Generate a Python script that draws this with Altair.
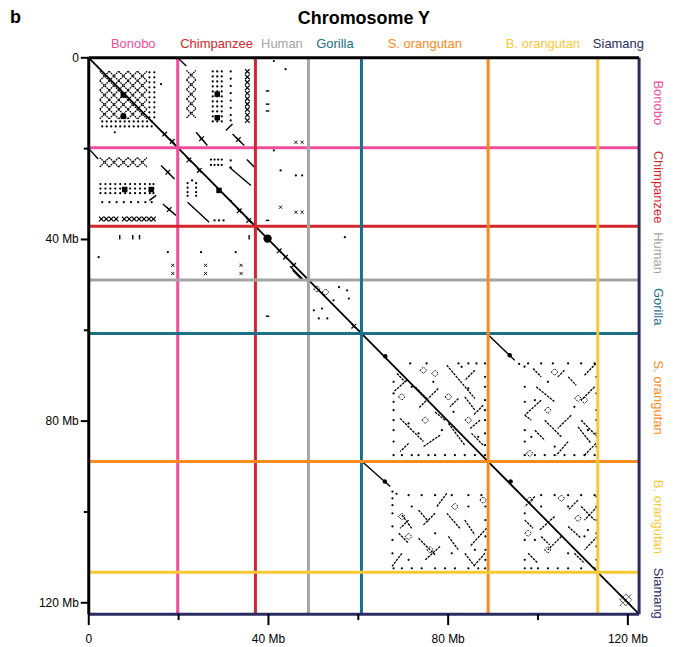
import altair as alt
import pandas as pd

# ---------------- species blocks (Mb) ----------------
species = ["Bonobo", "Chimpanzee", "Human", "Gorilla", "S. orangutan", "B. orangutan", "Siamang"]
starts = [0.0, 19.8, 37.1, 48.9, 60.7, 88.9, 113.3]
ends = [19.8, 37.1, 48.9, 60.7, 88.9, 113.3, 122.5]
colors = ["#EE4E9B", "#D3262D", "#A5A5A5", "#1D6F87", "#F68B20", "#F8C935", "#2C2B61"]
major_ticks = [0, 40, 80, 120]
major_labels = ["0", "40 Mb", "80 Mb", "120 Mb"]
minor_ticks = [20, 60, 100]

# ---------------- lattice X motifs (palindromic repeats) ----------------
latt_bb_x = [3.5, 5.6, 7.7, 9.8, 11.9]
latt_bb_y = [4.0, 6.1, 8.2, 10.3, 12.4]
latt_bc_x = [22.8]
latt_bc_y = [3.8, 5.9, 8.0, 10.1, 12.2]
latt_cb_x = [3.5, 5.6, 7.7, 9.8, 11.9]
latt_cb_y = [23.0]

# small zig-zag X chains
zig_bc_x = [35.3]
zig_bc_y = [3.0, 4.2, 5.4, 6.6, 7.8, 9.0, 10.2, 11.4, 12.6, 13.8]
zig_cb_x = [2.8, 3.9, 5.0, 6.1, 7.9, 9.0, 10.1, 11.2, 12.3, 13.4, 14.4]
zig_cb_y = [35.5]

# crossings on alignment lines
diag_ticks = [(16.9, 16.8), (18.6, 18.4), (25.1, 17.8), (33.3, 18.0), (17.6, 25.2),
              (17.9, 33.4), (22.3, 22.5), (24.6, 24.8), (33.5, 33.7), (35.6, 35.8),
              (42.4, 42.5), (43.8, 43.9), (45.6, 45.7), (59.0, 59.1)]
tiny_x = [(42.7, 32.9), (46.1, 34.0), (47.5, 34.0), (46.1, 18.6), (47.5, 18.6),
          (18.7, 45.7), (18.7, 47.5), (26.0, 45.7), (26.0, 47.5), (33.9, 45.7),
          (33.9, 47.5)]
siamang_x = [(118.9, 118.7), (120.2, 118.7), (118.9, 120.0), (120.2, 120.0)]

# ---------------- dotted rows / columns ----------------
bb_col_x, bb_col_y = [13.5, 14.6], [3.2, 4.3, 5.4, 6.5, 7.6, 8.7, 9.8, 10.9, 12.0, 13.1]
bb_row_x, bb_row_y = [3.0, 4.0, 5.0, 6.0, 7.0, 8.0, 9.0, 10.0, 11.0, 12.0, 13.0, 14.0], [14.0, 15.1]
bc_comb_x, bc_comb_y = [27.6, 28.6, 29.6], [3.0, 4.1, 5.2, 6.3, 7.4, 8.5, 9.6, 10.7, 11.8, 12.9, 14.0]
bc_line_x, bc_line_y = [31.6], [3.0, 4.6, 6.2, 7.8, 9.4, 11.0, 12.6, 13.8]
cb_comb_x, cb_comb_y = [2.6, 3.7, 4.8, 5.9, 7.0, 8.1, 9.2, 10.3, 11.4, 12.5, 13.6, 14.4], [27.8, 28.8, 29.8]
cb_line_x, cb_line_y = [3.0, 4.6, 6.2, 7.8, 9.4, 11.0, 12.6, 14.0], [31.8]
cc_c_x, cc_c_y = [27.2, 28.0, 28.8, 29.6], [22.4, 23.6]
cc_n_x, cc_n_y = [22.0, 23.9], [27.6, 28.6, 29.6, 30.4]
ss_top_x, ss_top_y = [71.55, 75.2, 82.3, 84.5, 86.3, 88.2], [67.3]
ss_bot_x, ss_bot_y = [67.85, 69.7, 71.9, 73.4, 75.6, 77.1, 79.3, 81.5, 83.7, 85.95, 88.2], [87.5]
ss_left_x, ss_left_y = [67.85], [71.35, 73.9, 75.75, 77.6, 79.8, 82.0, 84.5]
ss_right_x, ss_right_y = [88.2], [70.25, 72.45, 75.4, 77.6, 79.8, 82.7, 85.3]
sb_top_x, sb_top_y = [97.8, 100.7, 103.3, 106.7, 109.6, 112.6], [67.3]
sb_bot_x, sb_bot_y = [97.05, 99.3, 101.5, 103.7, 105.9, 108.1, 110.35, 112.6], [87.5]
sb_left_x, sb_left_y = [97.05], [72.45, 75.75, 82.0, 84.5]
sb_right_x, sb_right_y = [113.0], [70.25, 73.9, 77.6, 79.8, 82.7, 85.6]
bs_top_x, bs_top_y = [71.2, 74.1, 77.1, 80.8, 84.5, 87.4], [96.3]
bs_bot_x, bs_bot_y = [67.85, 69.7, 71.9, 74.1, 77.1, 79.3, 81.5, 84.5, 86.7, 88.2], [112.4]
bs_left_x, bs_left_y = [67.6], [95.5, 97.0, 98.5, 100.3, 103.2, 106.15, 109.1]
bs_right_x, bs_right_y = [88.3], [98.8, 101.8, 105.4, 108.35, 110.55]
oo_top_x, oo_top_y = [100.7, 103.7, 106.7, 109.6, 112.6], [96.3]
oo_bot_x, oo_bot_y = [97.05, 98.5, 100.0, 102.2, 104.4, 106.7, 109.6, 112.6], [112.4]
oo_left_x, oo_left_y = [97.05], [100.3, 106.15, 110.55]
oo_right_x, oo_right_y = [113.0], [96.6, 98.8, 101.8, 104.7, 107.6, 110.55]

stray_dots = [(16.1, 5.8), (5.8, 16.4), (41.2, 0.7), (43.8, 2.5), (42.7, 24.8), (46.1, 25.9),
              (47.5, 25.9), (41.2, 20.4), (2.2, 43.9), (17.6, 42.8), (25.0, 42.8), (32.7, 42.8),
              (57.0, 39.5), (55.7, 50.5), (57.5, 51.2), (57.9, 53.0), (54.5, 53.4), (50.1, 55.6),
              (51.9, 55.2), (51.2, 57.4), (53.1, 57.4), (31.6, 22.6), (31.6, 24.1), (31.6, 31.5),
              (28.0, 35.8), (29.0, 35.8), (30.0, 35.8), (23.0, 27.0), (95.8, 67.4), (97.0, 68.0),
              (68.5, 96.0)]
orang_inner_dots = [(71.9, 72.45), (76.7, 71.35), (84.5, 72.8), (81.2, 77.95), (71.2, 80.5),
                    (78.6, 82.0), (86.7, 83.45), (73.4, 82.7), (83.0, 68.05),
                    (102.2, 71.35), (108.1, 76.85), (99.3, 75.4), (111.1, 82.0), (103.7, 85.6),
                    (98.5, 83.45), (71.9, 98.8), (77.1, 104.7), (84.5, 98.8), (80.8, 109.1),
                    (71.2, 110.55), (85.95, 108.35), (100.7, 98.8), (106.7, 98.8), (111.1, 104.0),
                    (99.3, 106.15), (106.7, 109.1), (110.35, 105.4)]
dense_blocks = [(7.7, 8.2), (7.7, 12.9), (28.6, 8.0), (28.6, 13.2), (8.0, 29.0), (13.9, 29.0), (29.0, 29.2)]
big_dot = [(39.8, 39.8)]
mid_dots = [(66.0, 65.7), (93.7, 65.5), (65.9, 93.3), (93.9, 93.3)]

diamonds = [(74.5, 68.8), (69.7, 74.65), (80.05, 74.65), (74.9, 79.8), (84.5, 79.8), (77.1, 69.5),
            (103.7, 69.2), (108.9, 75.0), (110.35, 75.4), (98.15, 87.1), (102.2, 77.6),
            (69.7, 101.0), (87.8, 97.4), (76.0, 108.35), (81.5, 98.8), (71.2, 105.4),
            (98.15, 97.4), (105.2, 97.0), (108.9, 101.4), (97.8, 104.7), (102.2, 108.35),
            (50.8, 50.9), (52.7, 51.6)]

# ---------------- alignment segments (x1, y1, x2, y2) ----------------
seg_apes = [(19.8, 0.0, 21.7, 1.8), (23.9, 16.4, 26.4, 19.3), (30.5, 16.0, 32.0, 14.6),
            (32.0, 16.8, 34.6, 19.3), (0.0, 20.0, 2.1, 22.3), (16.1, 23.7, 19.1, 26.7),
            (16.5, 32.2, 19.4, 34.7), (13.5, 31.4, 15.0, 30.3), (31.3, 24.1, 36.1, 28.1),
            (35.2, 22.4, 37.0, 24.2), (22.0, 31.8, 26.8, 36.2), (44.8, 45.9, 47.6, 48.7),
            (45.4, 46.8, 47.4, 48.8),
            (39.4, 7.3, 40.2, 7.3), (39.4, 10.2, 40.2, 10.2), (39.4, 11.7, 40.2, 11.7),
            (39.4, 35.8, 40.2, 35.8), (39.4, 56.9, 40.2, 56.9), (6.9, 39.0, 6.9, 40.0),
            (9.8, 39.0, 9.8, 40.0), (11.3, 39.0, 11.3, 40.0), (35.7, 39.0, 35.7, 40.0)]
seg_orang_ortho = [(88.9, 61.0, 94.8, 66.6), (60.7, 88.8, 67.1, 94.4)]
seg_ss = [(79.7, 67.7, 85.95, 75.0), (77.8, 72.8, 73.4, 77.2), (69.3, 79.4, 74.5, 84.5),
          (78.2, 83.1, 74.5, 85.6), (80.05, 80.5, 83.7, 85.3), (87.1, 79.8, 84.9, 81.6),
          (85.2, 82.7, 87.8, 85.3), (71.2, 84.9, 69.3, 86.7), (85.95, 68.8, 83.7, 71.0),
          (83.7, 74.65, 85.95, 77.6), (87.8, 76.5, 85.6, 78.7), (68.6, 69.5, 70.4, 71.35),
          (70.8, 71.0, 67.85, 73.55), (72.7, 72.45, 75.2, 75.0), (82.3, 75.0, 80.4, 76.85),
          (77.1, 78.0, 79.3, 79.8)]
seg_sb = [(98.9, 68.4, 100.7, 70.25), (105.9, 68.8, 104.4, 70.25),
          (112.9, 67.3, 110.35, 69.9), (99.6, 72.45, 103.7, 75.75), (100.7, 75.4, 97.05, 78.7),
          (97.05, 78.7, 98.5, 79.8), (112.6, 72.45, 109.6, 75.4), (101.5, 79.8, 105.2, 83.45),
          (107.4, 78.7, 104.4, 81.6), (109.6, 79.8, 113.2, 83.45), (106.7, 84.5, 104.1, 87.5),
          (108.9, 81.25, 111.8, 84.9), (112.9, 84.9, 110.35, 87.5), (106.7, 70.25, 108.5, 72.1),
          (99.3, 82.0, 101.5, 84.2)]
seg_bs = [(69.7, 100.7, 71.9, 103.6), (71.2, 101.8, 69.3, 103.6),
          (79.7, 95.9, 77.5, 98.8), (73.4, 99.6, 75.6, 102.1), (77.1, 100.3, 74.5, 102.85),
          (79.7, 100.3, 82.6, 103.6), (88.55, 103.6, 84.85, 107.6), (83.7, 101.8, 85.95, 105.05),
          (73.4, 105.8, 77.1, 109.45), (78.2, 107.6, 74.9, 110.55), (80.05, 105.4, 82.3, 108.35),
          (69.7, 109.1, 67.5, 112.0), (83.7, 109.1, 85.95, 112.0), (88.2, 109.1, 85.95, 111.65),
          (69.0, 104.7, 71.2, 106.9)]
seg_bb = [(99.3, 96.6, 97.05, 98.8), (103.7, 101.0, 100.35, 104.0), (97.05, 101.8, 98.9, 103.6),
          (113.2, 98.8, 110.35, 101.8), (109.6, 98.8, 112.6, 101.8), (106.7, 103.2, 109.6, 105.8),
          (105.2, 105.4, 102.2, 108.35), (97.8, 109.1, 100.0, 111.3), (113.2, 105.4, 110.35, 108.35),
          (108.1, 109.1, 110.35, 111.3), (108.9, 97.4, 106.7, 99.6), (100.7, 105.4, 102.6, 107.25)]

# ---------------- tables ----------------
def grid(xs, ys):
    return [(x, y) for x in xs for y in ys]

def pts(pairs):
    return pd.DataFrame(pairs, columns=["px", "py"])

def segs(rows):
    return pd.DataFrame(rows, columns=["sx", "sy", "sx2", "sy2"])

lattice = pts(grid(latt_bb_x, latt_bb_y) + grid(latt_bc_x, latt_bc_y) + grid(latt_cb_x, latt_cb_y))
zig = pts(grid(zig_bc_x, zig_bc_y) + grid(zig_cb_x, zig_cb_y) + diag_ticks)
tiny = pts(tiny_x)
siam = pts(siamang_x)
dots = pts(grid(bb_col_x, bb_col_y) + grid(bb_row_x, bb_row_y) + grid(bc_comb_x, bc_comb_y)
           + grid(bc_line_x, bc_line_y) + grid(cb_comb_x, cb_comb_y) + grid(cb_line_x, cb_line_y)
           + grid(cc_c_x, cc_c_y) + grid(cc_n_x, cc_n_y)
           + grid(ss_top_x, ss_top_y) + grid(ss_bot_x, ss_bot_y) + grid(ss_left_x, ss_left_y) + grid(ss_right_x, ss_right_y)
           + grid(sb_top_x, sb_top_y) + grid(sb_bot_x, sb_bot_y) + grid(sb_left_x, sb_left_y) + grid(sb_right_x, sb_right_y)
           + grid(bs_top_x, bs_top_y) + grid(bs_bot_x, bs_bot_y) + grid(bs_left_x, bs_left_y) + grid(bs_right_x, bs_right_y)
           + grid(oo_top_x, oo_top_y) + grid(oo_bot_x, oo_bot_y) + grid(oo_left_x, oo_left_y) + grid(oo_right_x, oo_right_y)
           + stray_dots + orang_inner_dots)
dense = pts(dense_blocks)
bigdot = pts(big_dot)
middot = pts(mid_dots)
diam = pts(diamonds)
diag = segs([(s, s, e, e) for s, e in zip(starts, ends)])
thin_segs = segs(seg_apes + seg_orang_ortho)
orang_segs = segs(seg_ss + seg_sb + seg_bs + seg_bb)

DOM = [0, ends[-1]]
bound_rows = []
for sp, e in zip(species, ends):
    bound_rows.append({"species": sp, "bx": 0.0, "by": e, "bx2": DOM[1], "by2": e})
    bound_rows.append({"species": sp, "bx": e, "by": 0.0, "bx2": e, "by2": DOM[1]})
bounds = pd.DataFrame(bound_rows)
labels = pd.DataFrame({"species": species, "mid": [(s + e) / 2 for s, e in zip(starts, ends)]})
frame = pd.DataFrame({"fx": [0.0, 0.0], "fx2": [DOM[1], 0.0], "fy": [0.0, 0.0], "fy2": [0.0, DOM[1]]})
minor = pd.DataFrame({"m": minor_ticks})
major = pd.DataFrame({"m": major_ticks, "lab": major_labels})

# ---------------- chart ----------------
W, H = 552, 558
FONT = "Liberation Sans"
xs = alt.Scale(domain=DOM, nice=False, zero=False)
ys = alt.Scale(domain=DOM, nice=False, zero=False, reverse=True)
cscale = alt.Scale(domain=species, range=colors)

def P(data, mark):
    return alt.Chart(data).mark_point(**mark).encode(
        x=alt.X("px:Q", scale=xs, axis=None), y=alt.Y("py:Q", scale=ys, axis=None))

def S(data, **mark):
    return alt.Chart(data).mark_rule(color="black", **mark).encode(
        x=alt.X("sx:Q", scale=xs, axis=None), y=alt.Y("sy:Q", scale=ys, axis=None),
        x2="sx2:Q", y2="sy2:Q")

XPATH = "M-1,-1L1,1M-1,1L1,-1"

layer_diag = S(diag, strokeWidth=1.8)
layer_segs = S(thin_segs, strokeWidth=1.4)
layer_oseg = S(orang_segs, strokeWidth=1.3, strokeDash=[2.5, 1])
layer_latt = P(lattice, dict(shape=XPATH, size=88, filled=False, color="black", strokeWidth=1.3,
                             strokeDash=[1.6, 0.8], opacity=1))
layer_zig = P(zig, dict(shape=XPATH, size=22, filled=False, color="black", strokeWidth=1.2, opacity=1))
layer_tiny = P(tiny, dict(shape=XPATH, size=10, filled=False, color="black", strokeWidth=0.9, opacity=1))
layer_siam = P(siam, dict(shape=XPATH, size=36, filled=False, color="black", strokeWidth=1.0,
                          strokeDash=[1.2, 0.8], opacity=1))
layer_dots = P(dots, dict(shape="circle", size=5, filled=True, color="black", opacity=1))
layer_dense = P(dense, dict(shape="square", size=30, filled=True, color="black", opacity=1))
layer_big = P(bigdot, dict(shape="circle", size=70, filled=True, color="black", opacity=1))
layer_mid = P(middot, dict(shape="circle", size=20, filled=True, color="black", opacity=1))
layer_diam = P(diam, dict(shape="diamond", size=45, filled=False, color="black", strokeWidth=1,
                          strokeDash=[1.5, 1], opacity=1))

layer_bounds = alt.Chart(bounds).mark_rule(strokeWidth=3).encode(
    x=alt.X("bx:Q", scale=xs, axis=None), y=alt.Y("by:Q", scale=ys, axis=None),
    x2="bx2:Q", y2="by2:Q",
    color=alt.Color("species:N", scale=cscale, legend=None))
layer_frame = alt.Chart(frame).mark_rule(color="black", strokeWidth=3).encode(
    x=alt.X("fx:Q", scale=xs, axis=None), x2="fx2:Q",
    y=alt.Y("fy:Q", scale=ys, axis=None), y2="fy2:Q")

# axis ticks and labels
tick_minor_y = alt.Chart(minor).mark_rule(color="black", strokeWidth=2).encode(
    y=alt.Y("m:Q", scale=ys, axis=None), x=alt.value(-5), x2=alt.value(0))
tick_minor_x = alt.Chart(minor).mark_rule(color="black", strokeWidth=2).encode(
    x=alt.X("m:Q", scale=xs, axis=None), y=alt.value(H), y2=alt.value(H + 6))
tick_major_y = alt.Chart(major).mark_rule(color="black", strokeWidth=2).encode(
    y=alt.Y("m:Q", scale=ys, axis=None), x=alt.value(-8), x2=alt.value(0))
tick_major_x = alt.Chart(major).mark_rule(color="black", strokeWidth=2).encode(
    x=alt.X("m:Q", scale=xs, axis=None), y=alt.value(H), y2=alt.value(H + 11))
lab_y = alt.Chart(major).mark_text(font=FONT, fontSize=12, align="right", baseline="middle",
                                   color="black").encode(
    y=alt.Y("m:Q", scale=ys, axis=None), x=alt.value(-10), text="lab:N")
lab_x = alt.Chart(major).mark_text(font=FONT, fontSize=12, align="center", baseline="middle",
                                   color="black").encode(
    x=alt.X("m:Q", scale=xs, axis=None), y=alt.value(H + 25), text="lab:N")

layer_top = alt.Chart(labels).mark_text(font=FONT, fontSize=13, baseline="middle", align="center").encode(
    x=alt.X("mid:Q", scale=xs, axis=None), y=alt.value(-14), text="species:N",
    color=alt.Color("species:N", scale=cscale, legend=None))
layer_right = alt.Chart(labels).mark_text(font=FONT, fontSize=13, baseline="middle", align="center",
                                          angle=90).encode(
    y=alt.Y("mid:Q", scale=ys, axis=None), x=alt.value(W + 19), text="species:N",
    color=alt.Color("species:N", scale=cscale, legend=None))
layer_title = alt.Chart(alt.Data(values=[{"t": "Chromosome Y"}])).mark_text(
    font=FONT, fontSize=18, fontWeight="bold", align="center", baseline="middle", color="black").encode(
    x=alt.value(W / 2), y=alt.value(-39), text="t:N")
layer_b = alt.Chart(alt.Data(values=[{"t": "b"}])).mark_text(
    font=FONT, fontSize=18, fontWeight="bold", align="left", baseline="middle", color="black").encode(
    x=alt.value(-79), y=alt.value(-40), text="t:N")

chart = alt.layer(
    layer_diag, layer_segs, layer_oseg, layer_latt, layer_zig, layer_tiny, layer_siam, layer_dots,
    layer_dense, layer_big, layer_mid, layer_diam, layer_bounds, layer_frame,
    tick_minor_y, tick_minor_x, tick_major_y, tick_major_x, lab_y, lab_x,
    layer_top, layer_right, layer_title, layer_b
).properties(
    width=W, height=H,
    padding={"left": 81, "top": 49, "right": 30, "bottom": 30},
    autosize=alt.AutoSizeParams(type="none"),
).configure_view(stroke=None)

chart.save("out.html", embed_options={"renderer": "svg", "actions": False})
